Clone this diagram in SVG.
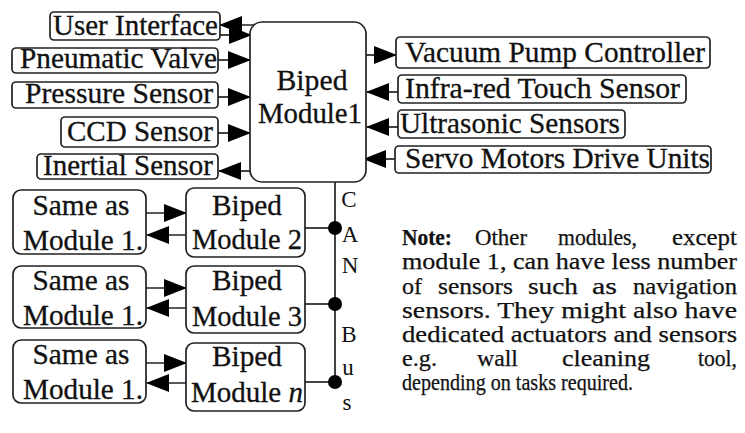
<svg xmlns="http://www.w3.org/2000/svg" width="745" height="433" viewBox="0 0 745 433">
<defs>
<marker id="ah" markerUnits="userSpaceOnUse" viewBox="0 0 24 18" markerWidth="24" markerHeight="18" refX="22" refY="9" orient="auto">
<path d="M0,0 L23,9 L0,18 z" fill="#000"/>
</marker>
<style>
.box{fill:#fff;stroke:#222;stroke-width:1.7}
.lbl{font-size:29px;fill:#111;stroke:#111;stroke-width:0.3}
.note{font-size:23px;fill:#111;stroke:#111;stroke-width:0.25}
.bus{font-size:23px;fill:#111}
.cn{stroke:#222;stroke-width:1.7;fill:none}
</style>
</defs>
<rect width="745" height="433" fill="#fff"/>

<g id="connectors" font-family="'Liberation Serif', 'Times New Roman', serif">
<line class="cn" marker-end="url(#ah)" x1="256" y1="25" x2="220" y2="25"/>
<line class="cn" marker-end="url(#ah)" x1="220" y1="35" x2="251" y2="35"/>
<line class="cn" marker-end="url(#ah)" x1="218" y1="60" x2="250" y2="60"/>
<line class="cn" marker-end="url(#ah)" x1="218" y1="97" x2="250" y2="97"/>
<line class="cn" marker-end="url(#ah)" x1="218" y1="133" x2="250" y2="133"/>
<line class="cn" marker-end="url(#ah)" x1="250" y1="171" x2="219" y2="171"/>
<line class="cn" marker-end="url(#ah)" x1="366" y1="55" x2="396" y2="55"/>
<line class="cn" marker-end="url(#ah)" x1="398" y1="92" x2="367" y2="92"/>
<line class="cn" marker-end="url(#ah)" x1="398" y1="127" x2="367" y2="127"/>
<line class="cn" marker-end="url(#ah)" x1="395" y1="159" x2="364" y2="159"/>
<line class="cn" marker-end="url(#ah)" x1="146" y1="213" x2="186" y2="213"/>
<line class="cn" marker-end="url(#ah)" x1="186" y1="235" x2="147" y2="235"/>
<line class="cn" marker-end="url(#ah)" x1="146" y1="288" x2="186" y2="288"/>
<line class="cn" marker-end="url(#ah)" x1="186" y1="308" x2="147" y2="308"/>
<line class="cn" marker-end="url(#ah)" x1="146" y1="363" x2="186" y2="363"/>
<line class="cn" marker-end="url(#ah)" x1="186" y1="383" x2="147" y2="383"/>
<line class="cn" x1="335" y1="182" x2="335" y2="382"/>
<line class="cn" x1="305" y1="228" x2="335" y2="228"/>
<line class="cn" x1="305" y1="304" x2="335" y2="304"/>
<line class="cn" x1="305" y1="382" x2="335" y2="382"/>
<circle cx="335" cy="228" r="7" fill="#000"/>
<circle cx="335" cy="304" r="7" fill="#000"/>
<circle cx="335" cy="382" r="7" fill="#000"/>
<text class="bus" x="349" y="207" text-anchor="middle">C</text>
<text class="bus" x="350" y="242" text-anchor="middle">A</text>
<text class="bus" x="350" y="273" text-anchor="middle">N</text>
<text class="bus" x="349" y="342" text-anchor="middle">B</text>
<text class="bus" x="348" y="375" text-anchor="middle">u</text>
<text class="bus" x="347" y="410" text-anchor="middle">s</text>
</g>

<g id="nodes" font-family="'Liberation Serif', 'Times New Roman', serif">
<g id="module1">
<rect class="box" x="250" y="22" width="116" height="160" rx="12"/>
<text class="lbl" x="312" y="90" text-anchor="middle" textLength="71" lengthAdjust="spacingAndGlyphs">Biped</text>
<text class="lbl" x="310" y="123" text-anchor="middle" textLength="104" lengthAdjust="spacingAndGlyphs">Module1</text>
</g>

<g id="user-interface">
<rect class="box" x="50" y="12" width="170" height="28" rx="4"/>
<text class="lbl" x="53" y="35" textLength="165" lengthAdjust="spacingAndGlyphs">User Interface</text>
</g>
<g id="pneumatic-valve">
<rect class="box" x="12" y="48" width="206" height="25" rx="4"/>
<text class="lbl" x="20" y="68" textLength="197" lengthAdjust="spacingAndGlyphs">Pneumatic Valve</text>
</g>
<g id="pressure-sensor">
<rect class="box" x="12" y="82" width="206" height="26" rx="4"/>
<text class="lbl" x="25" y="103" textLength="188" lengthAdjust="spacingAndGlyphs">Pressure Sensor</text>
</g>
<g id="ccd-sensor">
<rect class="box" x="61" y="117" width="157" height="30" rx="4"/>
<text class="lbl" x="67" y="141" textLength="146" lengthAdjust="spacingAndGlyphs">CCD Sensor</text>
</g>
<g id="inertial-sensor">
<rect class="box" x="37" y="154" width="181" height="25" rx="4"/>
<text class="lbl" x="43" y="175" textLength="170" lengthAdjust="spacingAndGlyphs">Inertial Sensor</text>
</g>

<g id="vacuum-pump-controller">
<rect class="box" x="396" y="37" width="314" height="31" rx="4"/>
<text class="lbl" x="405" y="62" textLength="300" lengthAdjust="spacingAndGlyphs">Vacuum Pump Controller</text>
</g>
<g id="infra-red-touch-sensor">
<rect class="box" x="398" y="75" width="288" height="28" rx="4"/>
<text class="lbl" x="405" y="98" textLength="275" lengthAdjust="spacingAndGlyphs">Infra-red Touch Sensor</text>
</g>
<g id="ultrasonic-sensors">
<rect class="box" x="398" y="110" width="227" height="28" rx="4"/>
<text class="lbl" x="400" y="133" textLength="220" lengthAdjust="spacingAndGlyphs">Ultrasonic Sensors</text>
</g>
<g id="servo-motors-drive-units">
<rect class="box" x="395" y="146" width="316" height="27" rx="4"/>
<text class="lbl" x="405" y="168" textLength="305" lengthAdjust="spacingAndGlyphs">Servo Motors Drive Units</text>
</g>

<g id="same-as-2">
<rect class="box" x="13" y="190" width="133" height="64" rx="8"/>
<text class="lbl" x="81" y="215" text-anchor="middle" textLength="97" lengthAdjust="spacingAndGlyphs">Same as</text>
<text class="lbl" x="83" y="250" text-anchor="middle" textLength="120" lengthAdjust="spacingAndGlyphs">Module 1.</text>
</g>
<g id="module2">
<rect class="box" x="186" y="188" width="119" height="69" rx="8"/>
<text class="lbl" x="247" y="215" text-anchor="middle" textLength="70" lengthAdjust="spacingAndGlyphs">Biped</text>
<text class="lbl" x="247" y="249" text-anchor="middle" textLength="110" lengthAdjust="spacingAndGlyphs">Module 2</text>
</g>
<g id="same-as-3">
<rect class="box" x="13" y="266" width="133" height="62" rx="8"/>
<text class="lbl" x="81" y="290" text-anchor="middle" textLength="97" lengthAdjust="spacingAndGlyphs">Same as</text>
<text class="lbl" x="83" y="325" text-anchor="middle" textLength="120" lengthAdjust="spacingAndGlyphs">Module 1.</text>
</g>
<g id="module3">
<rect class="box" x="186" y="266" width="119" height="67" rx="8"/>
<text class="lbl" x="247" y="290" text-anchor="middle" textLength="70" lengthAdjust="spacingAndGlyphs">Biped</text>
<text class="lbl" x="247" y="326" text-anchor="middle" textLength="110" lengthAdjust="spacingAndGlyphs">Module 3</text>
</g>
<g id="same-as-n">
<rect class="box" x="13" y="340" width="133" height="63" rx="8"/>
<text class="lbl" x="81" y="364" text-anchor="middle" textLength="97" lengthAdjust="spacingAndGlyphs">Same as</text>
<text class="lbl" x="83" y="399" text-anchor="middle" textLength="120" lengthAdjust="spacingAndGlyphs">Module 1.</text>
</g>
<g id="modulen">
<rect class="box" x="186" y="343" width="119" height="68" rx="8"/>
<text class="lbl" x="247" y="366" text-anchor="middle" textLength="70" lengthAdjust="spacingAndGlyphs">Biped</text>
<text class="lbl" x="191" y="402">Module <tspan font-style="italic">n</tspan></text>
</g>
</g>

<g id="note" class="note" font-family="'Liberation Serif', 'Times New Roman', serif">
<text y="245" x="402" font-weight="bold" textLength="50" lengthAdjust="spacingAndGlyphs">Note:</text>
<text y="245" x="475" textLength="52" lengthAdjust="spacingAndGlyphs">Other</text>
<text y="245" x="558" textLength="79" lengthAdjust="spacingAndGlyphs">modules,</text>
<text y="245" x="672" textLength="65" lengthAdjust="spacingAndGlyphs">except</text>
<text y="269" x="402" textLength="335" lengthAdjust="spacingAndGlyphs">module 1, can have less number</text>
<text y="294" x="402" textLength="20" lengthAdjust="spacingAndGlyphs">of</text>
<text y="294" x="438" textLength="75" lengthAdjust="spacingAndGlyphs">sensors</text>
<text y="294" x="528" textLength="50" lengthAdjust="spacingAndGlyphs">such</text>
<text y="294" x="592" textLength="25" lengthAdjust="spacingAndGlyphs">as</text>
<text y="294" x="633" textLength="104" lengthAdjust="spacingAndGlyphs">navigation</text>
<text y="318" x="402" textLength="335" lengthAdjust="spacingAndGlyphs">sensors. They might also have</text>
<text y="342" x="402" textLength="335" lengthAdjust="spacingAndGlyphs">dedicated actuators and sensors</text>
<text y="366" x="402" textLength="35" lengthAdjust="spacingAndGlyphs">e.g.</text>
<text y="366" x="477" textLength="41" lengthAdjust="spacingAndGlyphs">wall</text>
<text y="366" x="562" textLength="88" lengthAdjust="spacingAndGlyphs">cleaning</text>
<text y="366" x="698" textLength="39" lengthAdjust="spacingAndGlyphs">tool,</text>
<text y="390" x="402" textLength="231" lengthAdjust="spacingAndGlyphs">depending on tasks required.</text>
</g>
</svg>
